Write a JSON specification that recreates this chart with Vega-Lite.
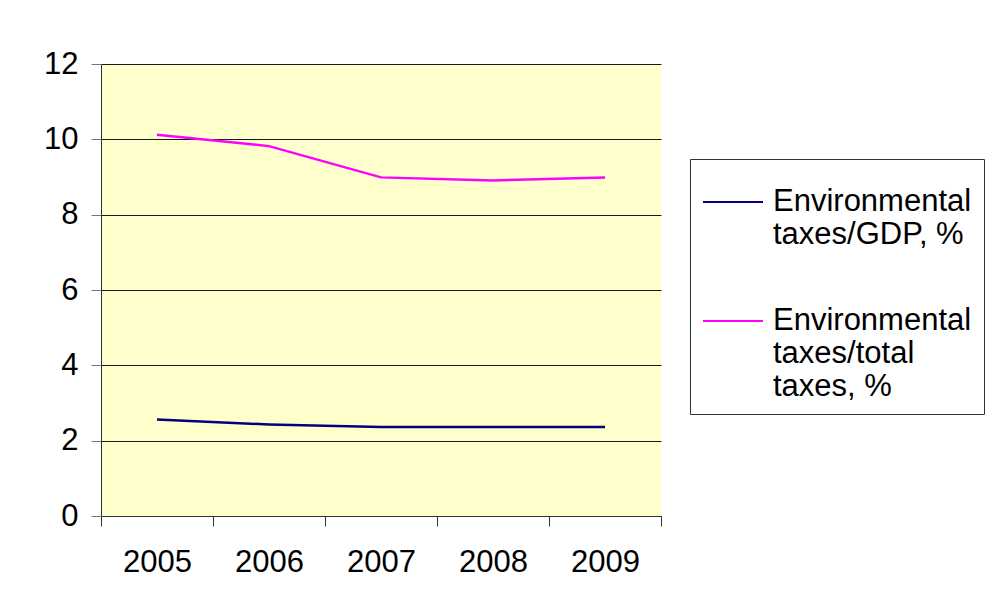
{
  "$schema": "https://vega.github.io/schema/vega-lite/v6.json",
  "autosize": "none",
  "width": 560,
  "height": 452,
  "padding": {"left": 101, "top": 64, "right": 329, "bottom": 88},
  "background": "white",
  "data": {
    "values": [
      {"year": "2005", "series": "Environmental taxes/GDP, %", "value": 2.56},
      {"year": "2006", "series": "Environmental taxes/GDP, %", "value": 2.43},
      {"year": "2007", "series": "Environmental taxes/GDP, %", "value": 2.36},
      {"year": "2008", "series": "Environmental taxes/GDP, %", "value": 2.36},
      {"year": "2009", "series": "Environmental taxes/GDP, %", "value": 2.36},
      {"year": "2005", "series": "Environmental taxes/total taxes, %", "value": 10.12},
      {"year": "2006", "series": "Environmental taxes/total taxes, %", "value": 9.82},
      {"year": "2007", "series": "Environmental taxes/total taxes, %", "value": 8.99},
      {"year": "2008", "series": "Environmental taxes/total taxes, %", "value": 8.91},
      {"year": "2009", "series": "Environmental taxes/total taxes, %", "value": 8.99}
    ]
  },
  "mark": {"type": "line", "strokeWidth": 2.5},
  "encoding": {
    "x": {
      "field": "year",
      "type": "ordinal",
      "scale": {"type": "band", "paddingInner": 0, "paddingOuter": 0},
      "axis": {
        "title": null,
        "labelAngle": 0,
        "tickBand": "extent",
        "tickSize": 10,
        "labelPadding": 21,
        "domainColor": "#333333",
        "tickColor": "#333333",
        "labelFont": "Liberation Sans",
        "labelFontSize": 31,
        "labelColor": "black",
        "grid": false
      }
    },
    "y": {
      "field": "value",
      "type": "quantitative",
      "scale": {"domain": [0, 12], "nice": false, "zero": true},
      "axis": {
        "title": null,
        "values": [0, 2, 4, 6, 8, 10, 12],
        "grid": true,
        "gridColor": "#1a1a1a",
        "gridWidth": 1,
        "gridOpacity": 1,
        "tickSize": 10,
        "labelPadding": 13,
        "domainColor": "#333333",
        "tickColor": "#777777",
        "labelFont": "Liberation Sans",
        "labelFontSize": 31,
        "labelColor": "black"
      }
    },
    "color": {
      "field": "series",
      "type": "nominal",
      "scale": {
        "domain": ["Environmental taxes/GDP, %", "Environmental taxes/total taxes, %"],
        "range": ["#000080", "#FF00FF"]
      },
      "legend": {
        "title": null,
        "orient": "none",
        "legendX": 589,
        "legendY": 95,
        "strokeColor": "#333333",
        "fillColor": "white",
        "padding": 12,
        "symbolType": "stroke",
        "symbolSize": 3600,
        "symbolStrokeWidth": 2,
        "labelFont": "Liberation Sans",
        "labelFontSize": 31,
        "labelColor": "black",
        "labelLimit": 0,
        "labelOffset": 9,
        "rowPadding": 40,
        "labelExpr": "datum.label == 'Environmental taxes/GDP, %' ? ['Environmental', 'taxes/GDP, %'] : ['Environmental', 'taxes/total', 'taxes, %']"
      }
    }
  },
  "config": {
    "view": {"fill": "#FFFFCC", "stroke": null},
    "text": {"lineHeight": 30}
  }
}
